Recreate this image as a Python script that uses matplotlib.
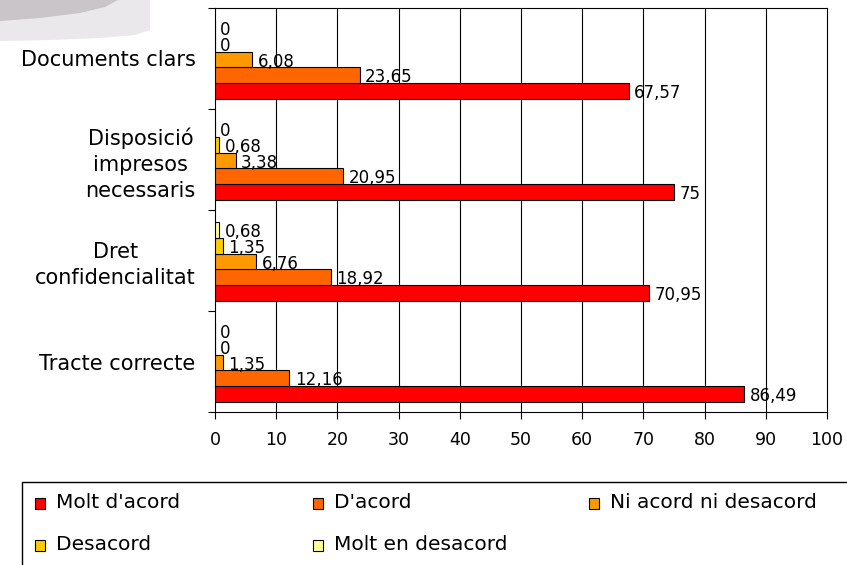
import numpy as np
import matplotlib
matplotlib.use("Agg")
import matplotlib.pyplot as plt
from matplotlib.patches import Rectangle, Polygon

# survey answers (percent) per item
categories = ["Documents clars", "Disposició\nimpresos\nnecessaris",
              "Dret\nconfidencialitat", "Tracte correcte"]
molt_acord = [67.57, 75, 70.95, 86.49]
acord = [23.65, 20.95, 18.92, 12.16]
ni_acord = [6.08, 3.38, 6.76, 1.35]
desacord = [0, 0.68, 1.35, 0]
molt_desacord = [0, 0, 0.68, 0]

series_names = ["Molt d'acord", "D'acord", "Ni acord ni desacord",
                "Desacord", "Molt en desacord"]
series_vals = [molt_acord, acord, ni_acord, desacord, molt_desacord]
colors = ["#FF0000", "#FF6600", "#FF9900", "#FFCC00", "#FFFF99"]
xticks = list(range(0, 101, 10))

W, H = 847, 565
fig = plt.figure(figsize=(W / 100, H / 100), dpi=100)

def px(x, y):
    # pixel (from top-left) -> figure fraction
    return x / W, 1 - y / H

# grey logo remains in the corner
fig.patches.append(Polygon([px(0, 0), px(150, 0), px(150, 30), px(135, 35),
                            px(100, 38), px(50, 40), px(0, 41)],
                           closed=True, transform=fig.transFigure,
                           facecolor="#eae8ea", edgecolor="none"))
fig.patches.append(Polygon([px(0, 0), px(118, 0), px(105, 7), px(80, 13),
                            px(40, 18), px(0, 21)],
                           closed=True, transform=fig.transFigure,
                           facecolor="#c9c5c9", edgecolor="none"))

ax = fig.add_axes([215 / W, 1 - 412 / H, (827 - 215) / W, (412 - 8) / H])

n = len(categories)
y = np.arange(n)
h = 0.155
for k, (name, vals, col) in enumerate(zip(series_names, series_vals, colors)):
    ypos = y + (2 - k) * h + 0.01
    ax.barh(ypos, vals, height=h, color=col, edgecolor="black", linewidth=0.8,
            zorder=3)
    for yy, v in zip(ypos, vals):
        lab = ("%g" % v).replace(".", ",")
        ax.annotate(lab, (v, yy), xytext=(3.8, -1.5), textcoords="offset points",
                    ha="left", va="center", fontsize=12, zorder=4)

ax.set_xlim(0, 100)
ax.set_ylim(n - 0.5, -0.5)
ax.set_xticks(xticks)
ax.tick_params(axis="x", labelsize=12.5, length=5, width=0.8, pad=9)
for xv in xticks[1:-1]:
    ax.axvline(xv, color="black", lw=0.8, zorder=1)

ax.set_yticks(np.arange(-0.5, n, 1.0))
ax.set_yticklabels([])
ax.tick_params(axis="y", length=5, width=0.8)
ax.set_yticks(y, minor=True)
ax.set_yticklabels(categories, minor=True, fontsize=15, ha="right",
                   multialignment="center", linespacing=1.35)
ax.tick_params(axis="y", which="minor", length=0, pad=14)
for s in ax.spines.values():
    s.set_linewidth(0.8)

# legend box like the spreadsheet one, running off the page
fig.patches.append(Rectangle(px(22, 600), (900 - 22) / W, (600 - 482) / H,
                             transform=fig.transFigure, facecolor="white",
                             edgecolor="black", linewidth=1.0))
leg_x = [35, 313, 589]
leg_y = [503, 545]
for i, (name, col) in enumerate(zip(series_names, colors)):
    cx, cy = leg_x[i % 3], leg_y[i // 3]
    fig.patches.append(Rectangle(px(cx, cy + 5.5), 10 / W, 11 / H,
                                 transform=fig.transFigure, facecolor=col,
                                 edgecolor="black", linewidth=0.8))
    fx, fy = px(cx + 21, cy)
    fig.text(fx, fy, name, fontsize=14.5, va="center", ha="left")

fig.savefig("out.png", dpi=100)
